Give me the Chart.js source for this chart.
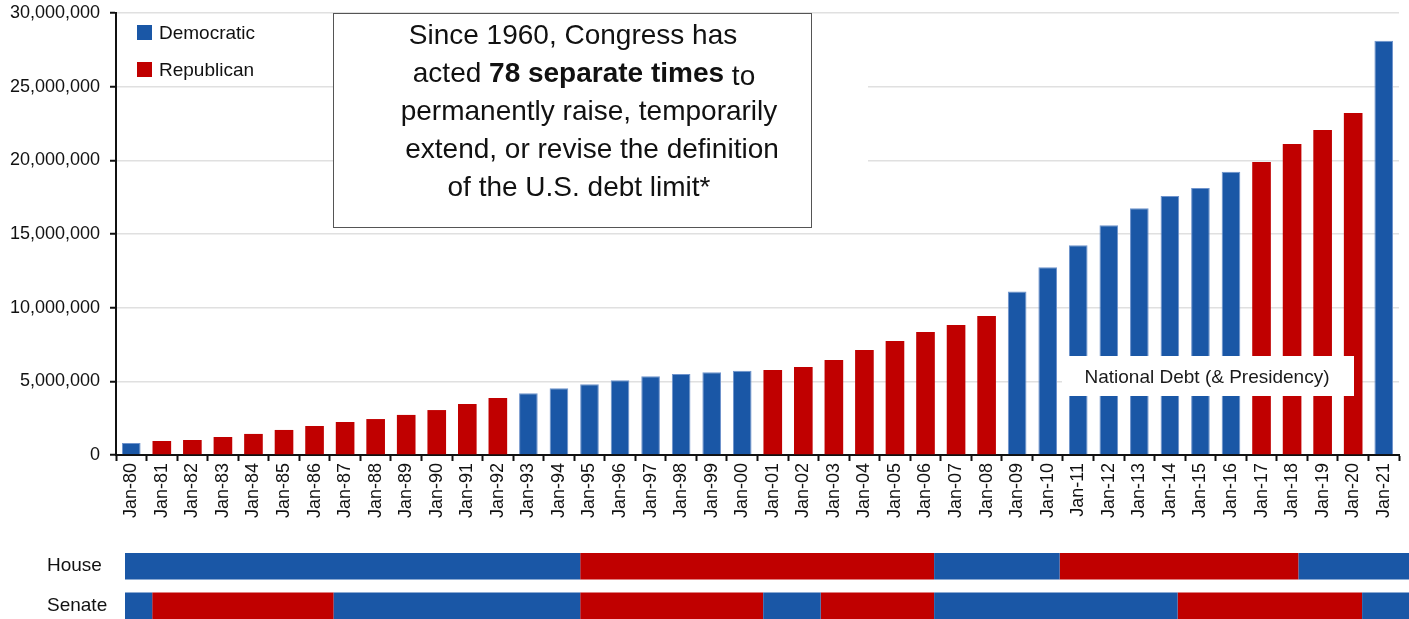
<!DOCTYPE html>
<html>
<head>
<meta charset="utf-8">
<title>National Debt (&amp; Presidency)</title>
<script src="https://cdn.jsdelivr.net/npm/chart.js@4.4.0/dist/chart.umd.min.js"></script>
<style>
  html, body { margin: 0; padding: 0; background: #fff; overflow: hidden; }
  #wrap { position: relative; width: 1409px; height: 619px; overflow: hidden; }
  #debtChart { position: absolute; left: 0; top: 0; }
  #congressChart { position: absolute; left: 0; top: 532px; }
</style>
</head>
<body>
<div id="wrap">
  <canvas id="debtChart" width="1409" height="530"></canvas>
  <canvas id="congressChart" width="1409" height="108"></canvas>
</div>
<script>
// Categories (January of each year)
const labels = ['Jan-80', 'Jan-81', 'Jan-82', 'Jan-83', 'Jan-84', 'Jan-85', 'Jan-86', 'Jan-87',
  'Jan-88', 'Jan-89', 'Jan-90', 'Jan-91', 'Jan-92', 'Jan-93', 'Jan-94', 'Jan-95', 'Jan-96',
  'Jan-97', 'Jan-98', 'Jan-99', 'Jan-00', 'Jan-01', 'Jan-02', 'Jan-03', 'Jan-04', 'Jan-05',
  'Jan-06', 'Jan-07', 'Jan-08', 'Jan-09', 'Jan-10', 'Jan-11', 'Jan-12', 'Jan-13', 'Jan-14',
  'Jan-15', 'Jan-16', 'Jan-17', 'Jan-18', 'Jan-19', 'Jan-20', 'Jan-21'];

// National debt (millions of dollars)
const debt = [820000, 950000, 1020000, 1220000, 1430000, 1700000, 1970000, 2240000,
  2440000, 2720000, 3050000, 3460000, 3870000, 4190000, 4530000, 4800000, 5070000,
  5340000, 5500000, 5610000, 5720000, 5770000, 5970000, 6450000, 7130000, 7740000,
  8350000, 8820000, 9430000, 11100000, 12740000, 14230000, 15590000, 16740000, 17580000,
  18120000, 19230000, 19890000, 21110000, 22060000, 23210000, 28120000];

// Party of the president for each bar
const presidency = ['D', 'R', 'R', 'R', 'R', 'R', 'R', 'R', 'R', 'R', 'R', 'R', 'R',
  'D', 'D', 'D', 'D', 'D', 'D', 'D', 'D', 'R', 'R', 'R', 'R', 'R', 'R', 'R', 'R',
  'D', 'D', 'D', 'D', 'D', 'D', 'D', 'D', 'R', 'R', 'R', 'R', 'D'];

// Y axis ticks
const yTicks = [0, 5000000, 10000000, 15000000, 20000000, 25000000, 30000000];

// Control of Congress, [from, to] in years
const chambers = ['House', 'Senate'];
const houseDem = [[1980, 1995.15], [2006.85, 2011], [2018.9, 2023]];
const houseRep = [[1995.15, 2006.85], [2011, 2018.9]];
const senateDem = [[1980, 1981], [1987, 1995.15], [2001.2, 2003.1], [2006.85, 2014.9], [2021, 2023]];
const senateRep = [[1981, 1987], [1995.15, 2001.2], [2003.1, 2006.85], [2014.9, 2021]];

const BLUE = '#1a57a6';
const RED = '#c00000';
const FONT = "'Liberation Sans', Helvetica, Arial, sans-serif";
Chart.defaults.font.family = FONT;
Chart.defaults.color = '#111';

const demValues = debt.map((v, i) => presidency[i] === 'D' ? v : null);
const repValues = debt.map((v, i) => presidency[i] === 'R' ? v : null);

// Legend, text box and the series label
const overlays = {
  id: 'overlays',
  afterDraw(chart) {
    const c = chart.ctx;
    c.save();

    // legend (two rows, square swatches)
    c.font = '19px ' + FONT;
    c.textBaseline = 'alphabetic';
    c.textAlign = 'left';
    chart.data.datasets.forEach((ds, i) => {
      const y = 25 + i * 37;
      c.fillStyle = ds.backgroundColor;
      c.fillRect(137, y, 15, 15);
      c.fillStyle = '#111';
      c.fillText(ds.label, 159, y + 14);
    });

    // box with the note
    c.fillStyle = '#fff';
    c.fillRect(812, 70, 56, 105);
    c.fillRect(333, 13, 479, 214);
    c.strokeStyle = '#555';
    c.lineWidth = 1;
    c.strokeRect(333.5, 13.5, 478, 214);

    c.fillStyle = '#111';
    c.textAlign = 'center';
    c.font = '28px ' + FONT;
    c.fillText('Since 1960, Congress has', 573, 43.5);
    c.fillText('permanently raise, temporarily', 589, 119.5);
    c.fillText('extend, or revise the definition', 592, 157.5);
    c.fillText('of the U.S. debt limit*', 579, 195.5);

    // second line mixes normal and bold text
    const p1 = 'acted ', p2 = '78 separate times', p3 = ' to';
    c.font = '28px ' + FONT;
    const w1 = c.measureText(p1).width, w3 = c.measureText(p3).width;
    c.font = 'bold 28px ' + FONT;
    const w2 = c.measureText(p2).width;
    let x = 584 - (w1 + w2 + w3) / 2;
    c.textAlign = 'left';
    c.font = '28px ' + FONT;
    c.fillText(p1, x, 81.5);
    c.font = 'bold 28px ' + FONT;
    c.fillText(p2, x + w1, 81.5);
    c.font = '28px ' + FONT;
    c.fillText(p3, x + w1 + w2, 84.5);

    // series label over the bars
    c.fillStyle = '#fff';
    c.fillRect(1062, 356, 292, 40);
    c.fillStyle = '#1a1a1a';
    c.textAlign = 'center';
    c.font = '19px ' + FONT;
    c.fillText('National Debt (& Presidency)', 1207, 383);
    c.restore();
  }
};

const debtChart = new Chart(document.getElementById('debtChart'), {
  type: 'bar',
  data: {
    labels: labels,
    datasets: [
      { label: 'Democratic', data: demValues, backgroundColor: BLUE, borderColor: '#6e93cc', borderWidth: 1 },
      { label: 'Republican', data: repValues, backgroundColor: RED, borderWidth: 0 }
    ]
  },
  options: {
    responsive: false,
    animation: false,
    layout: { padding: { top: 13, right: 10, left: 0, bottom: 0 } },
    datasets: { bar: { categoryPercentage: 1, barPercentage: 0.61 } },
    plugins: { legend: { display: false }, tooltip: { enabled: false } },
    scales: {
      x: {
        stacked: true,
        grid: { display: true, drawOnChartArea: false, offset: true, tickLength: 6, tickColor: '#111', tickWidth: 2 },
        border: { color: '#111', width: 2 },
        ticks: { minRotation: 90, maxRotation: 90, autoSkip: false, padding: 2, color: '#111', font: { size: 18 } },
        afterFit: (s) => { s.height = 75; }
      },
      y: {
        stacked: true,
        min: 0,
        max: 30000000,
        afterBuildTicks: (s) => { s.ticks = yTicks.map(v => ({ value: v })); },
        grid: { color: '#e0e0e0', lineWidth: 1.5, tickColor: '#111', tickWidth: 2, tickLength: 6 },
        border: { color: '#111', width: 2 },
        ticks: {
          padding: 10,
          color: '#111',
          font: { size: 18 },
          callback: (v) => Number(v).toLocaleString('en-US')
        },
        afterFit: (s) => { s.width = 116; s.paddingTop = 0; s.paddingBottom = 0; }
      }
    }
  },
  plugins: [overlays]
});

// Party control strips under the chart
const toPoints = (ranges, chamber) => ranges.map(r => ({ x: r, y: chamber }));

const congressChart = new Chart(document.getElementById('congressChart'), {
  type: 'bar',
  data: {
    labels: chambers,
    datasets: [
      { label: 'Democratic', data: toPoints(houseDem, 'House').concat(toPoints(senateDem, 'Senate')), backgroundColor: BLUE },
      { label: 'Republican', data: toPoints(houseRep, 'House').concat(toPoints(senateRep, 'Senate')), backgroundColor: RED }
    ]
  },
  options: {
    indexAxis: 'y',
    responsive: false,
    animation: false,
    layout: { padding: { left: 47, right: 0, top: 0, bottom: 0 } },
    datasets: { bar: { grouped: false, categoryPercentage: 1, barPercentage: 26 / 39 } },
    plugins: { legend: { display: false }, tooltip: { enabled: false } },
    scales: {
      x: { type: 'linear', min: 1980.1, max: 2022.55, display: false },
      y: {
        grid: { display: false },
        border: { display: false },
        ticks: { crossAlign: 'far', color: '#111', font: { size: 19 } },
        afterFit: (s) => { s.width = 78; }
      }
    }
  }
});
</script>
</body>
</html>
